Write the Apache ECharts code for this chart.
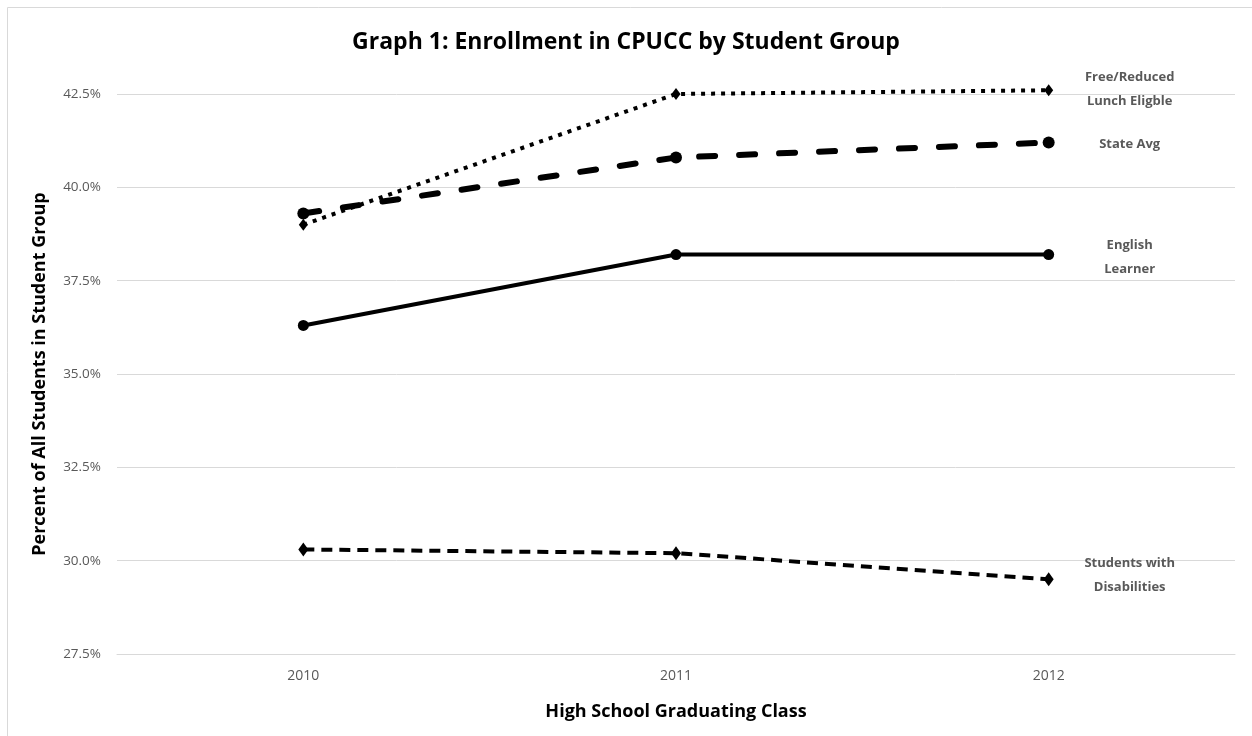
<!DOCTYPE html>
<html><head><meta charset="utf-8">
<script src="https://cdn.jsdelivr.net/npm/echarts@6/dist/echarts.min.js"></script>
<style>html,body{margin:0;padding:0;background:#fff}#c{width:1252px;height:736px}</style>
</head><body><div id="c"></div>
<script>
const categories = ['2010', '2011', '2012'];
const freeReduced = [39.0, 42.5, 42.6];
const stateAvg = [39.3, 40.8, 41.2];
const englishLearner = [36.3, 38.2, 38.2];
const disabilities = [30.3, 30.2, 29.5];
const seriesNames = ['Free/Reduced\nLunch Eligble', 'State Avg', 'English\nLearner', 'Students with\nDisabilities'];
const yTicks = [27.5, 30.0, 32.5, 35.0, 37.5, 40.0, 42.5];

const FONT = '"Open Sans", "Noto Sans", sans-serif';
const chart = echarts.init(document.getElementById('c'));
function endLbl(dy) {
  return {
    show: true, formatter: '{a}', position: 'right', distance: 0, align: 'center',
    offset: [81, dy], color: '#595959', fontFamily: FONT, fontWeight: 'bold', fontSize: 13, lineHeight: 24
  };
}
chart.setOption({
  animation: false,
  title: {
    text: 'Graph 1: Enrollment in CPUCC by Student Group', left: 'center', top: 26,
    textStyle: { fontFamily: FONT, fontWeight: 'bold', fontSize: 23, color: '#000' }
  },
  graphic: [{ type: 'rect', shape: { x: 7.5, y: 7.5, width: 1300, height: 800 }, style: { fill: 'none', stroke: '#d9d9d9', lineWidth: 1 }, silent: true }],
  grid: { left: 117, right: 17, top: 94, bottom: 82 },
  xAxis: {
    type: 'category', data: categories, boundaryGap: true,
    name: 'High School Graduating Class', nameLocation: 'middle', nameGap: 49,
    nameTextStyle: { fontFamily: FONT, fontWeight: 'bold', fontSize: 18, color: '#000' },
    axisLine: { show: true, lineStyle: { color: '#d9d9d9', width: 1 } },
    axisTick: { show: false },
    axisLabel: { color: '#595959', fontFamily: FONT, fontSize: 14, margin: 15 }
  },
  yAxis: {
    type: 'value', min: yTicks[0], max: yTicks[yTicks.length - 1], interval: 2.5,
    name: 'Percent of All Students in Student Group', nameLocation: 'middle', nameGap: 68,
    nameTextStyle: { fontFamily: FONT, fontWeight: 'bold', fontSize: 18, color: '#000' },
    axisLine: { show: false }, axisTick: { show: false },
    splitLine: { lineStyle: { color: '#d9d9d9', width: 1 } },
    axisLabel: { color: '#595959', fontFamily: FONT, fontSize: 13.5, margin: 16, formatter: v => v.toFixed(1) + '%' }
  },
  series: [
    { name: seriesNames[0], type: 'line', data: freeReduced, symbol: 'diamond', symbolSize: [9, 12], clip: false,
      itemStyle: { color: '#000' }, lineStyle: { color: '#000', width: 4, type: [4, 6] }, endLabel: endLbl(-1) },
    { name: seriesNames[1], type: 'line', data: stateAvg, symbol: 'circle', symbolSize: 12, clip: false,
      itemStyle: { color: '#000' }, lineStyle: { color: '#000', width: 6, type: [16, 24], cap: 'round' }, endLabel: endLbl(2) },
    { name: seriesNames[2], type: 'line', data: englishLearner, symbol: 'circle', symbolSize: 11, clip: false,
      itemStyle: { color: '#000' }, lineStyle: { color: '#000', width: 4, type: 'solid' }, endLabel: endLbl(3) },
    { name: seriesNames[3], type: 'line', data: disabilities, symbol: 'diamond', symbolSize: [10, 14], clip: false,
      itemStyle: { color: '#000' }, lineStyle: { color: '#000', width: 4, type: [11, 7] }, endLabel: endLbl(-4) }
  ]
});
</script></body></html>
